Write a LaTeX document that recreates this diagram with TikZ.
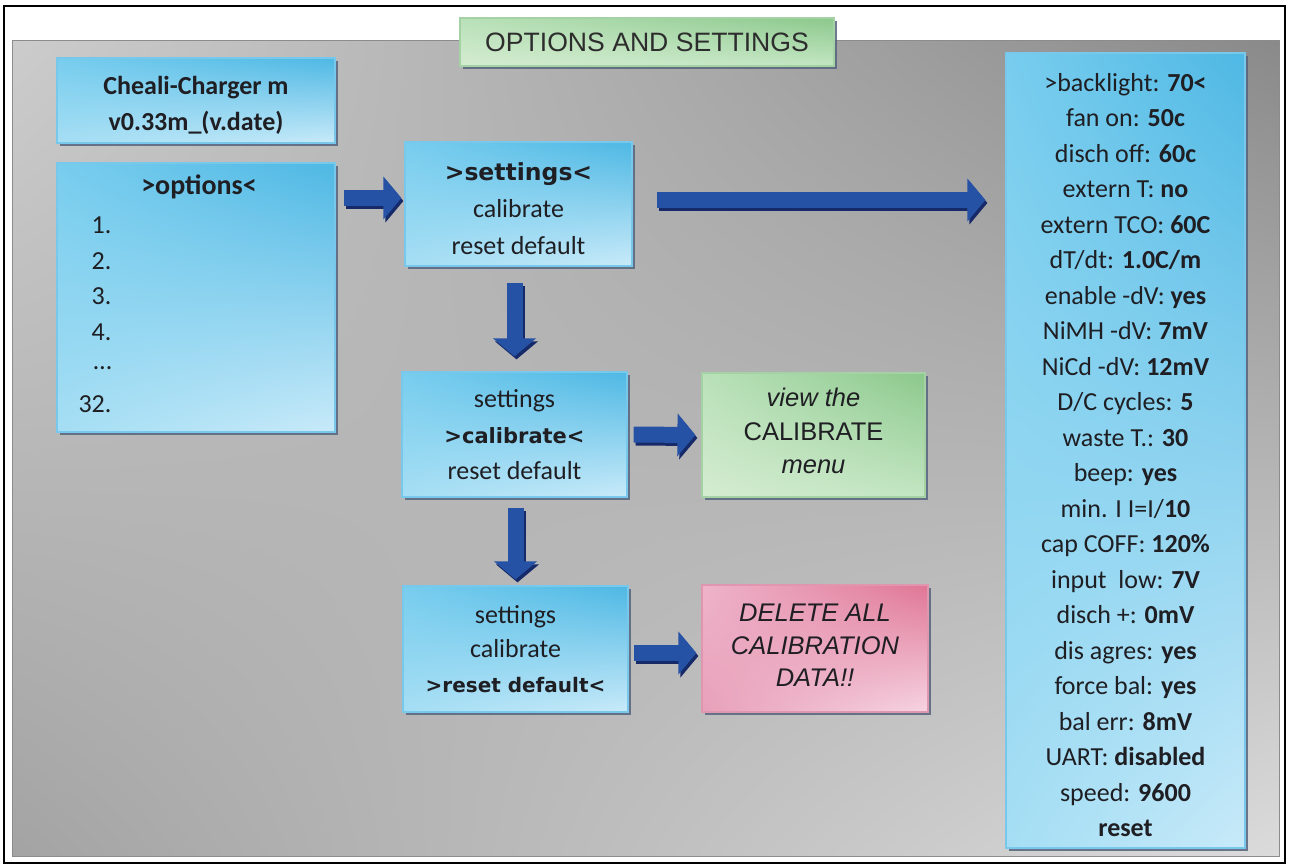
\documentclass[tikz,border=0pt]{standalone}
\usepackage{fontspec}
\setmainfont{Carlito}
\newfontfamily\arialfont{Liberation Sans}
\newfontfamily\heavyfont{DejaVu Sans}
\usepackage{tikz}
\usetikzlibrary{positioning,calc,shadows,shadings,arrows.meta}
\usepackage{xcolor}
\definecolor{textdark}{RGB}{30, 30, 35}
\definecolor{titletext}{RGB}{45, 45, 45}
\definecolor{boxedge}{RGB}{120, 200, 235}
\definecolor{boxshadow}{RGB}{85, 100, 125}
\definecolor{blueUL}{RGB}{120, 205, 238}
\definecolor{blueUR}{RGB}{78, 184, 228}
\definecolor{blueLL}{RGB}{165, 222, 244}
\definecolor{blueLR}{RGB}{200, 234, 249}
\definecolor{greenUL}{RGB}{185, 225, 185}
\definecolor{greenUR}{RGB}{140, 200, 140}
\definecolor{greenLL}{RGB}{212, 236, 208}
\definecolor{greenLR}{RGB}{195, 230, 195}
\definecolor{greenedge}{RGB}{165, 210, 165}
\definecolor{pinkUL}{RGB}{238, 180, 202}
\definecolor{pinkUR}{RGB}{224, 118, 150}
\definecolor{pinkLL}{RGB}{232, 160, 185}
\definecolor{pinkLR}{RGB}{246, 212, 226}
\definecolor{pinkedge}{RGB}{225, 150, 175}
\definecolor{arrblue}{RGB}{38, 82, 165}
\definecolor{arrdark}{RGB}{22, 42, 105}

\begin{document}
\begin{tikzpicture}[
    x=1pt, y=-1pt,
    box/.style={rectangle, line width=1.2pt, align=center, text=textdark, inner sep=0pt,
        drop shadow={shadow xshift=3pt, shadow yshift=-3pt, fill=boxshadow, opacity=.85}},
    bluebox/.style={box, draw=boxedge, upper left=blueUL, upper right=blueUR,
        lower left=blueLL, lower right=blueLR},
    greenbox/.style={box, draw=greenedge, upper left=greenUL, upper right=greenUR,
        lower left=greenLL, lower right=greenLR},
    pinkbox/.style={box, draw=pinkedge, upper left=pinkUL, upper right=pinkUR,
        lower left=pinkLL, lower right=pinkLR},
    txt/.style={text=textdark, align=center, font=\fontsize{26}{36}\selectfont},
    blk/.style={draw=arrblue, line width=16pt, -{Triangle[width=42pt,length=18pt]}},
    blkshade/.style={blk, draw=arrdark, transform canvas={xshift=2pt,yshift=-3pt}}
]
    \useasboundingbox (0,0) rectangle (1289,867);

    % Frame and grey panel
    \fill[white] (0,0) rectangle (1289,867);
    \shade[upper left=black!20, upper right=black!46, lower left=black!36, lower right=black!14]
        (12,41) rectangle (1279,856);
    \draw[black!45, line width=1pt] (12,41) rectangle (1279,856);
    \draw[line width=2.5pt] (4,6) rectangle (1285,863);

    % Title
    \node[greenbox, minimum width=374pt, minimum height=48pt, text=titletext,
        font=\arialfont\fontsize{26.6}{30}\selectfont] (title) at (647,42) {OPTIONS AND SETTINGS};

    % Left column
    \node[bluebox, minimum width=278pt, minimum height=85pt] (cheali) at (196,100.5) {};
    \node[txt, font=\fontsize{26}{36}\selectfont\bfseries] (chealiT) at ($(cheali.center)+(0,5)$)
        {Cheali-Charger m\\v0.33m\_(v.date)};
    \node[bluebox, minimum width=278pt, minimum height=269pt] (opts) at (196,297.5) {};
    \node[txt, font=\fontsize{28}{36}\selectfont\bfseries] (optsT) at (199,187) {>options<};
    \foreach \t [count=\k] in {1.,2.,3.,4.,\ldots,32.} {
        \node[txt, anchor=east] (num\k) at (115,{225+35.8*(\k-1)}) {\t};
    }

    % Menu boxes
    \node[bluebox, minimum width=227pt, minimum height=124pt] (settings) at (518.5,204) {};
    \node[txt, font=\fontsize{26}{37}\selectfont] (settingsT) at ($(settings.center)+(0,5)$)
        {{\heavyfont\bfseries\fontsize{23.5}{37}\selectfont >settings<}\\calibrate\\reset default};
    \node[bluebox, minimum width=225pt, minimum height=125pt,
        font=\fontsize{26}{36}\selectfont] (calib) at (514.5,434.5)
        {settings\\{\heavyfont\bfseries\fontsize{21}{36}\selectfont >calibrate<}\\reset default};
    \node[bluebox, minimum width=225pt, minimum height=126pt,
        font=\fontsize{26}{34.5}\selectfont] (reset) at (515.5,649)
        {settings\\calibrate\\{\heavyfont\bfseries\fontsize{20}{34.5}\selectfont >reset default<}};

    % Results
    \node[greenbox, minimum width=223pt, minimum height=124pt] (view) at (813.5,435) {};
    \node[txt, font=\arialfont\fontsize{25.5}{33.5}\selectfont] (viewT) at ($(view.center)+(0,-4)$)
        {{\itshape view the}\\CALIBRATE\\{\itshape menu}};
    \node[pinkbox, minimum width=226pt, minimum height=127pt] (delete) at (815,648.5) {};
    \node[txt, font=\arialfont\itshape\fontsize{25.5}{32.5}\selectfont] (deleteT)
        at ($(delete.center)+(0,-3)$) {DELETE ALL\\CALIBRATION\\DATA!!};

    % Settings list
    \node[bluebox, minimum width=239pt, minimum height=795pt] (rbox) at (1125.5,450.5) {};
    \node[txt, font=\fontsize{26}{35.5}\selectfont] (rtext) at (1125.5,455) {
        >backlight: \textbf{70<}\\ fan on: \textbf{50c}\\ disch off: \textbf{60c}\\
        extern T: \textbf{no}\\ extern TCO: \textbf{60C}\\ dT/dt: \textbf{1.0C/m}\\
        enable -dV: \textbf{yes}\\ NiMH -dV: \textbf{7mV}\\ NiCd -dV: \textbf{12mV}\\
        D/C cycles: \textbf{5}\\ waste T.: \textbf{30}\\ beep: \textbf{yes}\\
        min. I I=I/\textbf{10}\\ cap COFF: \textbf{120\%}\\ input\ \ low: \textbf{7V}\\
        disch +: \textbf{0mV}\\ dis agres: \textbf{yes}\\ force bal: \textbf{yes}\\
        bal err: \textbf{8mV}\\ UART: \textbf{disabled}\\ speed: \textbf{9600}\\
        \textbf{reset}};

    % Arrows
    \coordinate (s1) at ($(settings.west -| opts.east)+(8,-6)$);
    \coordinate (e1) at ($(settings.west)+(-3,-6)$);
    \coordinate (s2) at ($(settings.east)+(24,-4)$);
    \coordinate (e2) at ($(settings.east -| rbox.west)+(-20,-4)$);
    \coordinate (s3) at ($(calib.north |- settings.south)+(0,16)$);
    \coordinate (e3) at ($(calib.north)+(0,-15)$);
    \coordinate (s4) at ($(calib.east)+(6,0)$);
    \coordinate (e4) at ($(view.west)+(-6,0)$);
    \coordinate (s5) at ($(reset.north |- calib.south)+(0,10)$);
    \coordinate (e5) at ($(reset.north)+(0,-6)$);
    \coordinate (s6) at ($(reset.east)+(5,4)$);
    \coordinate (e6) at ($(reset.east -| delete.west)+(-5,4)$);
    \foreach \i in {1,...,6} {
        \draw[blkshade] (s\i) -- (e\i);
        \draw[blk] (s\i) -- (e\i);
    }
\end{tikzpicture}
\end{document}
